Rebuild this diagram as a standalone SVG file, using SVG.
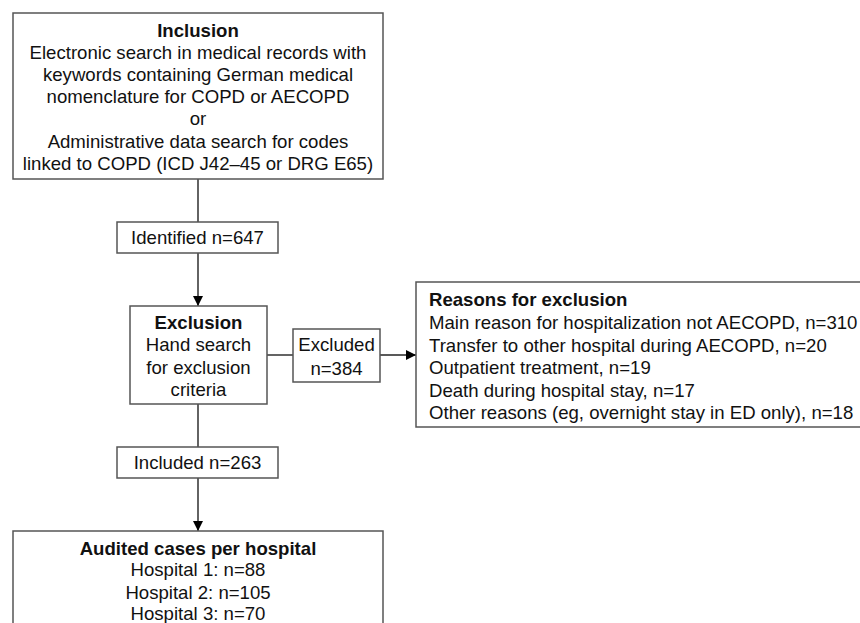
<svg xmlns="http://www.w3.org/2000/svg" width="860" height="623" viewBox="0 0 860 623">
<defs>
<style>
.box{fill:#fff;stroke:#555;stroke-width:1.5}
text{font-family:"Liberation Sans",Arial,sans-serif;font-size:18.6px;fill:#111}
.c{text-anchor:middle}
.b{font-weight:bold}
.ln{stroke:#222;stroke-width:1.4;fill:none}
</style>
<marker id="ah" markerWidth="10" markerHeight="10" refX="10" refY="5" orient="auto" markerUnits="userSpaceOnUse">
<path d="M0,0 L10,5 L0,10 Z" fill="#000"/>
</marker>
</defs>
<rect width="860" height="623" fill="#fff"/>
<g id="connectors">
<line class="ln" x1="198" y1="179" x2="198" y2="222"/>
<line class="ln" x1="198" y1="253" x2="198" y2="306" marker-end="url(#ah)"/>
<line class="ln" x1="198" y1="404" x2="198" y2="447"/>
<line class="ln" x1="198" y1="478" x2="198" y2="531" marker-end="url(#ah)"/>
<line class="ln" x1="267" y1="355" x2="293" y2="355"/>
<line class="ln" x1="380" y1="355" x2="416" y2="355" marker-end="url(#ah)"/>
</g>
<g id="inclusion">
<rect class="box" x="13" y="13" width="370" height="166"/>
<text class="c b" x="198" y="36.5">Inclusion</text>
<text class="c" x="198" y="58.7">Electronic search in medical records with</text>
<text class="c" x="198" y="80.9">keywords containing German medical</text>
<text class="c" x="198" y="103.1">nomenclature for COPD or AECOPD</text>
<text class="c" x="198" y="125.3">or</text>
<text class="c" x="198" y="147.5">Administrative data search for codes</text>
<text class="c" x="198" y="169.7">linked to COPD (ICD J42–45 or DRG E65)</text>
</g>
<g id="identified">
<rect class="box" x="117" y="222" width="161" height="31"/>
<text class="c" x="197.5" y="244">Identified n=647</text>
</g>
<g id="exclusion">
<rect class="box" x="130" y="306" width="137" height="98"/>
<text class="c b" x="198.5" y="328.5">Exclusion</text>
<text class="c" x="198.5" y="350.5">Hand search</text>
<text class="c" x="198.5" y="373.5">for exclusion</text>
<text class="c" x="198.5" y="395.5">criteria</text>
</g>
<g id="excluded">
<rect class="box" x="293" y="329" width="87" height="53"/>
<text class="c" x="336.5" y="350.5">Excluded</text>
<text class="c" x="336.5" y="374.5">n=384</text>
</g>
<g id="reasons">
<rect class="box" x="416" y="282" width="460" height="145"/>
<text class="b" x="429" y="305.5">Reasons for exclusion</text>
<text x="429" y="329">Main reason for hospitalization not AECOPD, n=310</text>
<text x="429" y="351.5">Transfer to other hospital during AECOPD, n=20</text>
<text x="429" y="374">Outpatient treatment, n=19</text>
<text x="429" y="396.5">Death during hospital stay, n=17</text>
<text x="429" y="419">Other reasons (eg, overnight stay in ED only), n=18</text>
</g>
<g id="included">
<rect class="box" x="117" y="447" width="161" height="31"/>
<text class="c" x="197.5" y="469">Included n=263</text>
</g>
<g id="audited">
<rect class="box" x="13" y="531" width="370" height="110"/>
<text class="c b" x="198" y="554.5">Audited cases per hospital</text>
<text class="c" x="198" y="576">Hospital 1: n=88</text>
<text class="c" x="198" y="598.5">Hospital 2: n=105</text>
<text class="c" x="198" y="620">Hospital 3: n=70</text>
</g>
</svg>
